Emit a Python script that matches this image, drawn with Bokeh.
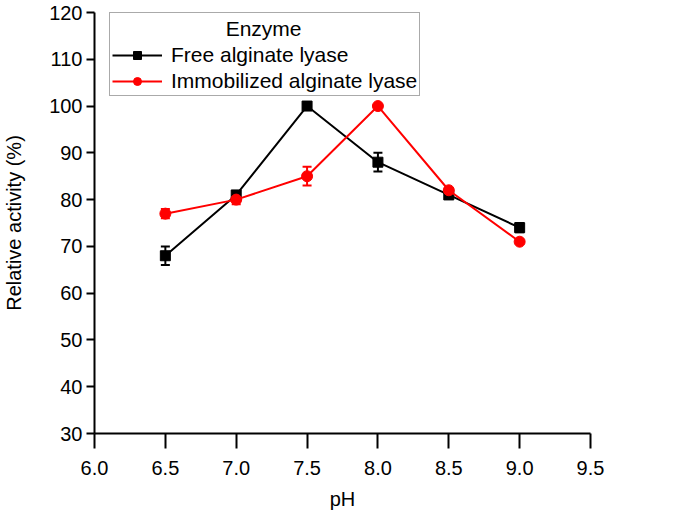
from bokeh.plotting import figure
from bokeh.models import ColumnDataSource, Whisker, TeeHead, Legend, LegendItem, Label, FixedTicker, Range1d
from bokeh.embed import file_html
from bokeh.resources import INLINE

ph = [6.5, 7.0, 7.5, 8.0, 8.5, 9.0]
free_vals = [68, 81, 100, 88, 81, 74]
free_err = [2, 0.8, 0.4, 2, 0.5, 1]
immob_vals = [77, 80, 85, 100, 82, 71]
immob_err = [1, 1, 2, 0.3, 0.3, 0.3]
x_ticks = [6.0, 6.5, 7.0, 7.5, 8.0, 8.5, 9.0, 9.5]
y_ticks = [30, 40, 50, 60, 70, 80, 90, 100, 110, 120]

FONT = "Liberation Sans"
FS = "20px"
LFS = "21px"

p = figure(width=677, height=513, output_backend="svg", toolbar_location=None,
           x_range=Range1d(6.0, 9.5), y_range=Range1d(30, 120),
           min_border_left=94, min_border_right=87, min_border_top=12, min_border_bottom=80)
p.outline_line_color = None
p.grid.visible = False
p.background_fill_color = "white"
p.border_fill_color = "white"

def mk(vals, errs):
    return ColumnDataSource(dict(x=ph, y=vals,
                                 lo=[v - e for v, e in zip(vals, errs)],
                                 hi=[v + e for v, e in zip(vals, errs)]))

src_f = mk(free_vals, free_err)
src_i = mk(immob_vals, immob_err)

for src, col in ((src_f, "black"), (src_i, "red")):
    w = Whisker(source=src, base="x", lower="lo", upper="hi", line_color=col, line_width=2,
                upper_head=TeeHead(size=9, line_color=col, line_width=2),
                lower_head=TeeHead(size=9, line_color=col, line_width=2))
    p.add_layout(w)

lf = p.line("x", "y", source=src_f, line_color="black", line_width=2)
mf = p.scatter("x", "y", source=src_f, marker="square", size=10, fill_color="black", line_color="black")
li = p.line("x", "y", source=src_i, line_color="red", line_width=2)
mi = p.scatter("x", "y", source=src_i, marker="circle", size=11, fill_color="red", line_color="red")

for ax in (p.xaxis[0], p.yaxis[0]):
    ax.axis_line_width = 2
    ax.major_tick_line_width = 2
    ax.minor_tick_line_color = None
    ax.major_tick_in = 0
    ax.major_label_text_font = FONT
    ax.major_label_text_font_size = FS
    ax.major_label_text_color = "black"
    ax.axis_label_text_font = FONT
    ax.axis_label_text_font_size = FS
    ax.axis_label_text_font_style = "normal"
    ax.axis_label_text_color = "black"

p.xaxis[0].ticker = FixedTicker(ticks=x_ticks)
p.xaxis[0].major_label_overrides = {t: f"{t:.1f}" for t in x_ticks}
p.xaxis[0].major_tick_out = 15
p.xaxis[0].major_label_standoff = 12
p.xaxis[0].axis_label = "pH"
p.xaxis[0].axis_label_standoff = 10

p.yaxis[0].ticker = FixedTicker(ticks=y_ticks)
p.yaxis[0].major_tick_out = 8
p.yaxis[0].major_label_standoff = 4
p.yaxis[0].axis_label = "Relative activity (%)"
p.yaxis[0].axis_label_standoff = 21

legend = Legend(items=[LegendItem(label="Free alginate lyase", renderers=[lf, mf]),
                       LegendItem(label="Immobilized alginate lyase", renderers=[li, mi])],
                location=(15, 337), title="\u00a0",
                title_text_font=FONT, title_text_font_size=LFS, title_standoff=4,
                label_text_font=FONT, label_text_font_size=LFS, label_text_color="black",
                glyph_width=50, glyph_height=20, label_height=20, spacing=2,
                padding=2, margin=0, label_standoff=9,
                border_line_color="#555555", border_line_width=1.5,
                background_fill_alpha=0)
p.add_layout(legend, "center")

p.add_layout(Label(x=7.193, y=116.6, text="Enzyme", text_font=FONT, text_font_size=LFS,
                   text_align="center", text_baseline="middle", text_color="black"))

open("out.html", "w").write(file_html(p, INLINE))
